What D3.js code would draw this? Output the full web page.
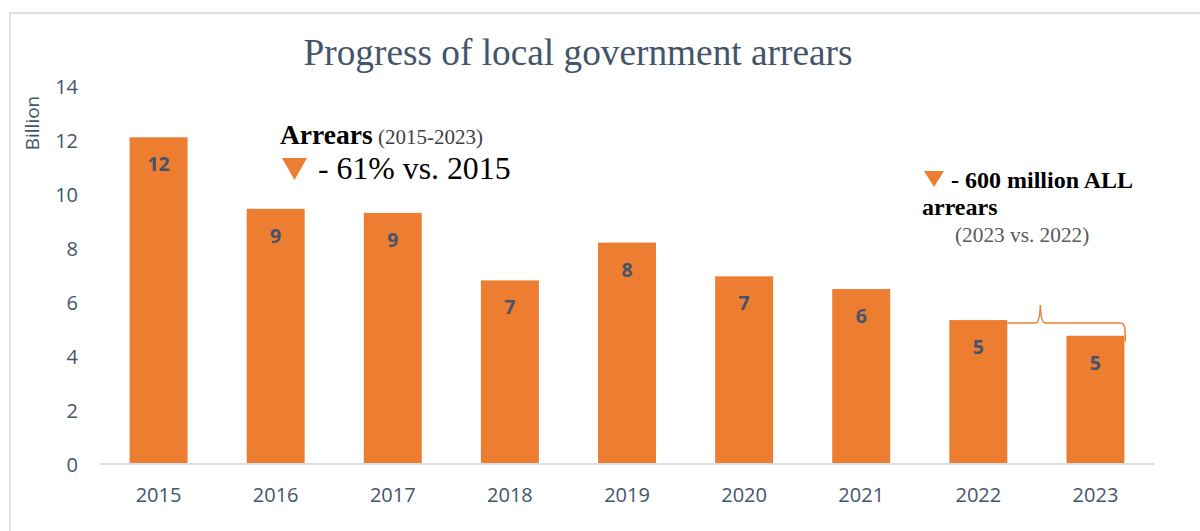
<!DOCTYPE html>
<html>
<head>
<meta charset="utf-8">
<script src="https://cdn.jsdelivr.net/npm/d3@7"></script>
<style>
  html, body { margin: 0; padding: 0; background: #fff; }
  svg { display: block; }
</style>
</head>
<body>
<svg id="chart" width="1200" height="531"></svg>
<script>
// Local government arrears, billion ALL
const years = ["2015", "2016", "2017", "2018", "2019", "2020", "2021", "2022", "2023"];
const arrears = [12.1, 9.45, 9.3, 6.8, 8.2, 6.95, 6.48, 5.33, 4.75];
const yTicks = [0, 2, 4, 6, 8, 10, 12, 14];

const W = 1200, H = 531;
const plot = { left: 100, right: 1154, top: 86, bottom: 464 };
const orange = "#ED7D31";
const slate = "#44546A";
const sans = "'Open Sans', 'DejaVu Sans', sans-serif";
const serif = "'Liberation Serif', 'Times New Roman', serif";

const svg = d3.select("#chart");

// chart area frame
svg.append("rect")
  .attr("x", 10).attr("y", 13)
  .attr("width", W + 20).attr("height", H + 20)
  .attr("fill", "none")
  .attr("stroke", "#DCE1E7")
  .attr("stroke-width", 2);

const x = d3.scaleBand()
  .domain(years)
  .range([plot.left, plot.right])
  .paddingInner(0.505)
  .paddingOuter(0.2525);

const y = d3.scaleLinear()
  .domain([0, 14])
  .range([plot.bottom, plot.top]);

// y axis: labels only
const yAxis = svg.append("g")
  .attr("transform", `translate(${plot.left - 22},0)`)
  .call(d3.axisLeft(y).tickValues(yTicks).tickSize(0).tickPadding(0));
yAxis.select(".domain").remove();
yAxis.selectAll("text")
  .attr("fill", slate)
  .attr("font-family", sans)
  .attr("font-size", 20)
  .attr("dy", "0.36em");

// bars
svg.append("g").selectAll("rect")
  .data(years)
  .join("rect")
  .attr("x", d => x(d))
  .attr("y", (d, i) => y(arrears[i]))
  .attr("width", x.bandwidth())
  .attr("height", (d, i) => y(0) - y(arrears[i]))
  .attr("fill", orange);

// x axis
const xAxis = svg.append("g")
  .attr("transform", `translate(0,${plot.bottom})`)
  .call(d3.axisBottom(x).tickSize(0).tickPadding(24));
xAxis.select(".domain")
  .attr("stroke", "#D9DEE5")
  .attr("stroke-width", 2)
  .attr("d", `M${plot.left},0H${plot.right}`);
xAxis.selectAll("text")
  .attr("fill", slate)
  .attr("font-family", sans)
  .attr("font-size", 20);

// value labels inside bars
const fmt = d3.format(".0f");
svg.append("g").selectAll("text")
  .data(years)
  .join("text")
  .attr("x", d => x(d) + x.bandwidth() / 2)
  .attr("y", (d, i) => y(arrears[i]) + 34)
  .attr("text-anchor", "middle")
  .attr("fill", slate)
  .attr("font-family", sans)
  .attr("font-weight", "bold")
  .attr("font-size", 19.5)
  .text((d, i) => fmt(arrears[i]));

// axis title
svg.append("text")
  .attr("transform", "translate(39,123) rotate(-90)")
  .attr("text-anchor", "middle")
  .attr("fill", slate)
  .attr("font-family", sans)
  .attr("font-size", 19)
  .text("Billion");

// chart title
svg.append("text")
  .attr("x", 578).attr("y", 65)
  .attr("text-anchor", "middle")
  .attr("fill", slate)
  .attr("font-family", serif)
  .attr("font-size", 37.3)
  .text("Progress of local government arrears");

// downward triangle marker
function triangle(x0, y0, w, h) {
  svg.append("path")
    .attr("d", `M${x0},${y0}L${x0 + w},${y0}L${x0 + w / 2},${y0 + h}Z`)
    .attr("fill", orange);
}

// overall change note
const note1 = svg.append("text")
  .attr("x", 280).attr("y", 144)
  .attr("font-family", serif);
note1.append("tspan")
  .attr("font-weight", "bold").attr("font-size", 27.5).attr("fill", "#000")
  .text("Arrears");
note1.append("tspan")
  .attr("font-size", 21).attr("fill", "#404040")
  .text(" (2015-2023)");

triangle(282, 158, 25, 22);
svg.append("text")
  .attr("x", 318).attr("y", 179)
  .attr("font-family", serif)
  .attr("font-size", 31.8)
  .attr("fill", "#000")
  .text("- 61% vs. 2015");

// year-on-year change note
triangle(924, 171, 20, 16);
svg.append("text")
  .attr("x", 951).attr("y", 188)
  .attr("font-family", serif)
  .attr("font-weight", "bold")
  .attr("font-size", 24)
  .attr("fill", "#000")
  .text("- 600 million ALL");
svg.append("text")
  .attr("x", 922).attr("y", 215)
  .attr("font-family", serif)
  .attr("font-weight", "bold")
  .attr("font-size", 24)
  .attr("fill", "#000")
  .text("arrears");
svg.append("text")
  .attr("x", 955).attr("y", 242)
  .attr("font-family", serif)
  .attr("font-size", 21.3)
  .attr("fill", "#595959")
  .text("(2023 vs. 2022)");

// brace linking the 2022 and 2023 bars
const i22 = years.indexOf("2022"), i23 = years.indexOf("2023");
const bx0 = x("2022") + x.bandwidth();
const bx1 = x("2023") + x.bandwidth() + 1;
const by = y(arrears[i22]) + 3;
const peak = bx0 + 33;
const bEnd = y(arrears[i23]) + 6;
svg.append("path")
  .attr("d", `M${bx0},${by}L${peak - 5},${by}Q${peak - 0.5},${by} ${peak},${by - 18}` +
             `Q${peak + 0.5},${by} ${peak + 5},${by}L${bx1 - 5},${by}` +
             `Q${bx1 - 1},${by} ${bx1 - 0.5},${by + 6}L${bx1},${bEnd}`)
  .attr("fill", "none")
  .attr("stroke", orange)
  .attr("stroke-width", 1.5);
</script>
</body>
</html>
